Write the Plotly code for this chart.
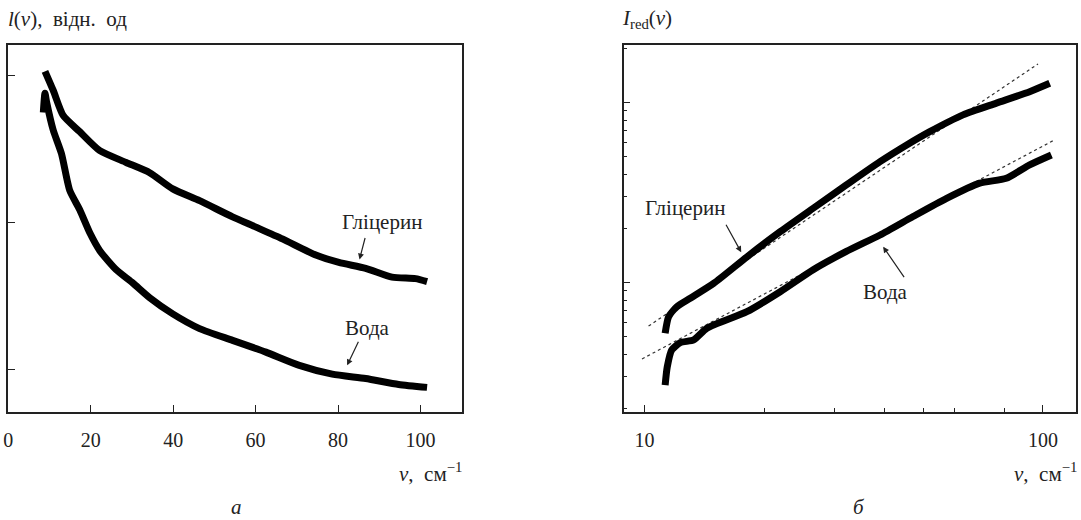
import math
import plotly.graph_objects as go

# ---- panel a (linear) ----
glyc_a_x = [8.9, 10.9, 13.3, 17.3, 22.2, 28.6, 34.3, 39.9, 46.4, 54.4, 60.1, 66.5, 74.6, 80.2, 86.7, 93.1, 98.8, 101.6]
glyc_a_y = [3.03, 2.90, 2.73, 2.62, 2.49, 2.41, 2.34, 2.23, 2.15, 2.04, 1.97, 1.89, 1.78, 1.73, 1.69, 1.63, 1.62, 1.60]
water_a_x = [8.5, 8.9, 9.3, 10.9, 12.9, 14.9, 17.3, 19.8, 22.2, 26.2, 30.2, 34.3, 39.9, 46.4, 54.4, 62.5, 70.6, 78.6, 86.7, 94.7, 101.6]
water_a_y = [2.75, 2.88, 2.82, 2.63, 2.47, 2.22, 2.09, 1.93, 1.81, 1.68, 1.59, 1.49, 1.38, 1.28, 1.20, 1.12, 1.03, 0.97, 0.94, 0.90, 0.88]
a_xticks = [0, 20, 40, 60, 80, 100]
a_yticks = [1, 2, 3]

# ---- panel b (log-log) ----
glyc_b_x = [11.26, 11.49, 12.06, 13.02, 14.9, 18.06, 21.9, 26.5, 32.1, 39.0, 45.5, 52.0, 63.0, 76.4, 92.6, 104]
glyc_b_y = [0.524, 0.647, 0.736, 0.819, 0.99, 1.39, 1.92, 2.59, 3.49, 4.70, 5.82, 6.90, 8.55, 9.93, 11.5, 12.8]
water_b_x = [11.26, 11.4, 11.7, 12.29, 13.28, 14.33, 18.06, 21.9, 26.5, 32.1, 39.0, 47.2, 57.3, 69.4, 80.9, 92.6, 105]
water_b_y = [0.270, 0.341, 0.423, 0.464, 0.481, 0.558, 0.690, 0.891, 1.18, 1.49, 1.84, 2.33, 2.94, 3.57, 3.80, 4.51, 5.12]
fit_glyc_x = [10.23, 97.2]
fit_glyc_y = [0.574, 16.4]
fit_water_x = [9.85, 107]
fit_water_y = [0.377, 6.21]
b_xticks = [10, 100]
b_xminor = [20, 30, 40, 50, 60, 80]
b_yticks = [1, 10]
b_yminor = [0.2, 0.3, 0.4, 0.5, 0.6, 0.7, 0.8, 0.9, 2, 3, 4, 5, 6, 7, 8, 9, 20]

FONT = "Liberation Serif"
LINE = "#222"
W, H = 1081, 520

fig = go.Figure()
curve = dict(mode="lines", line=dict(color="black", width=7, shape="spline", smoothing=0.6),
             showlegend=False, hoverinfo="skip")
fig.add_trace(go.Scatter(x=glyc_a_x, y=glyc_a_y, xaxis="x", yaxis="y", **curve))
fig.add_trace(go.Scatter(x=water_a_x, y=water_a_y, xaxis="x", yaxis="y", **curve))
dot = dict(mode="lines", line=dict(color="#333", width=1.2, dash="dot"), showlegend=False, hoverinfo="skip")
fig.add_trace(go.Scatter(x=fit_glyc_x, y=fit_glyc_y, xaxis="x2", yaxis="y2", **dot))
fig.add_trace(go.Scatter(x=fit_water_x, y=fit_water_y, xaxis="x2", yaxis="y2", **dot))
fig.add_trace(go.Scatter(x=glyc_b_x, y=glyc_b_y, xaxis="x2", yaxis="y2", **curve))
fig.add_trace(go.Scatter(x=water_b_x, y=water_b_y, xaxis="x2", yaxis="y2", **curve))

ydom = [1 - 411.5 / H, 1 - 45 / H]
common = dict(showline=True, mirror=True, linecolor=LINE, linewidth=1.5, showgrid=False, zeroline=False,
              ticks="inside", tickcolor=LINE, ticklen=7, tickwidth=1.2, automargin=False,
              tickfont=dict(family=FONT, size=20, color="#222"))

fig.update_layout(
    width=W, height=H,
    margin=dict(l=0, r=0, t=0, b=0, autoexpand=False),
    paper_bgcolor="white", plot_bgcolor="white",
    xaxis=dict(domain=[8.3 / W, 461.7 / W], range=[0, 110], tickvals=a_xticks, anchor="y", ticklabelstandoff=10, **common),
    yaxis=dict(domain=ydom, range=[0.716, 3.209], tickvals=a_yticks, showticklabels=False, anchor="x", **common),
    xaxis2=dict(domain=[623.5 / W, 1076 / W], type="log", range=[0.947, 2.083], tickvals=b_xticks,
                ticktext=["10", "100"], anchor="y2", ticklabelstandoff=10,
                minor=dict(tickvals=b_xminor, ticks="inside", ticklen=4, tickcolor=LINE, showgrid=False), **common),
    yaxis2=dict(domain=ydom, type="log", range=[-0.7156, 1.32], tickvals=b_yticks, showticklabels=False, anchor="x2",
                minor=dict(tickvals=b_yminor, ticks="inside", ticklen=4, tickcolor=LINE, showgrid=False), **common),
)

def px(x, y):
    return dict(x=x / W, y=1 - y / H, xref="paper", yref="paper")

NB = "\u00a0"
tfont = dict(family=FONT, size=21, color="#222")
anns = [
    dict(text=f"<i>l</i>(<i>ν</i>),{NB}{NB}відн.{NB}{NB}од", xanchor="left", yanchor="middle", **px(6, 19)),
    dict(text="<i>I</i><sub>red</sub>(<i>ν</i>)", xanchor="left", yanchor="middle", **px(620, 19)),
    dict(text=f"<i>ν</i>,{NB}{NB}см<sup>−1</sup>", xanchor="right", yanchor="middle", **px(464, 472)),
    dict(text=f"<i>ν</i>,{NB}{NB}см<sup>−1</sup>", xanchor="right", yanchor="middle", **px(1079, 472)),
    dict(text="<i>а</i>", xanchor="center", yanchor="middle", **px(236, 507)),
    dict(text="<i>б</i>", xanchor="center", yanchor="middle", **px(859, 507)),
]
for a in anns:
    fig.add_annotation(showarrow=False, font=tfont, **a)

arrow = dict(showarrow=True, arrowhead=2, arrowsize=1, arrowwidth=1.2, arrowcolor="#222", axref="pixel", ayref="pixel")
# panel a labels
fig.add_annotation(x=85.2, y=1.75, xref="x", yref="y", text="", ax=6, ay=-23, **arrow)
fig.add_annotation(x=82.2, y=1.03, xref="x", yref="y", text="", ax=12, ay=-25, **arrow)
fig.add_annotation(text="Гліцерин", showarrow=False, font=tfont, **px(382, 222))
fig.add_annotation(text="Вода", showarrow=False, font=tfont, **px(367, 328))
# panel b labels (log axes: annotation x/y in log10 units)
fig.add_annotation(x=math.log10(17.48), y=math.log10(1.475), xref="x2", yref="y2", text="", ax=-16, ay=-29, **arrow)
fig.add_annotation(x=math.log10(39.7), y=math.log10(1.585), xref="x2", yref="y2", text="", ax=22, ay=32, **arrow)
fig.add_annotation(text="Гліцерин", showarrow=False, font=tfont, **px(727, 208))
fig.add_annotation(text="Вода", showarrow=False, font=tfont, **px(910, 292))

fig.write_html("out.html", config={"displayModeBar": False},
               post_script="document.body.style.margin='0';document.body.style.padding='0';")
